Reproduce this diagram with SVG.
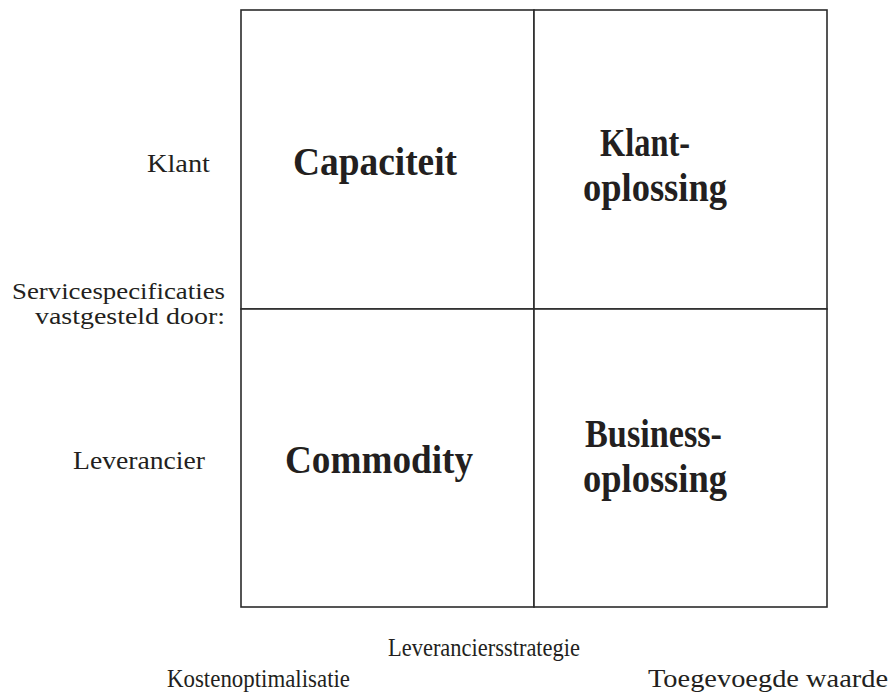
<svg xmlns="http://www.w3.org/2000/svg" width="892" height="700" viewBox="0 0 892 700">
  <style>
    .cell { fill: #ffffff; stroke: #2b2b2b; stroke-width: 1.6; }
    .title { font-family: "Liberation Serif", "Times New Roman", serif; font-weight: bold; font-size: 40px; fill: #231f20; }
    .label { font-family: "Liberation Serif", "Times New Roman", serif; font-size: 25px; fill: #231f20; }
    .label.tight { font-size: 22.5px; }
  </style>
  <rect width="892" height="700" fill="#ffffff"/>

  <!-- quadrant cells -->
  <g id="capaciteit">
    <rect class="cell" x="241" y="10" width="293" height="299"/>
    <text class="title" x="293" y="175" textLength="164" lengthAdjust="spacingAndGlyphs">Capaciteit</text>
  </g>
  <g id="klantoplossing">
    <rect class="cell" x="534" y="10" width="293" height="299"/>
    <text class="title" x="600" y="156" textLength="90" lengthAdjust="spacingAndGlyphs">Klant-</text>
    <text class="title" x="583" y="201" textLength="144" lengthAdjust="spacingAndGlyphs">oplossing</text>
  </g>
  <g id="commodity">
    <rect class="cell" x="241" y="309" width="293" height="298"/>
    <text class="title" x="285" y="473" textLength="188" lengthAdjust="spacingAndGlyphs">Commodity</text>
  </g>
  <g id="businessoplossing">
    <rect class="cell" x="534" y="309" width="293" height="298"/>
    <text class="title" x="585" y="447" textLength="137" lengthAdjust="spacingAndGlyphs">Business-</text>
    <text class="title" x="583" y="492" textLength="144" lengthAdjust="spacingAndGlyphs">oplossing</text>
  </g>

  <!-- connectors: none in this matrix -->
  <g id="connectors"/>

  <!-- vertical axis labels -->
  <g id="axis-y">
    <text class="label" x="147" y="172" textLength="63" lengthAdjust="spacingAndGlyphs">Klant</text>
    <text class="label tight" x="12" y="299" textLength="213" lengthAdjust="spacingAndGlyphs">Servicespecificaties</text>
    <text class="label tight" x="35" y="324" textLength="190" lengthAdjust="spacingAndGlyphs">vastgesteld door:</text>
    <text class="label" x="73" y="469" textLength="132" lengthAdjust="spacingAndGlyphs">Leverancier</text>
  </g>

  <!-- horizontal axis labels -->
  <g id="axis-x">
    <text class="label" x="388" y="656" textLength="192" lengthAdjust="spacingAndGlyphs">Leveranciersstrategie</text>
    <text class="label" x="167" y="687" textLength="183" lengthAdjust="spacingAndGlyphs">Kostenoptimalisatie</text>
    <text class="label" x="648" y="687" textLength="240" lengthAdjust="spacingAndGlyphs">Toegevoegde waarde</text>
  </g>
</svg>
